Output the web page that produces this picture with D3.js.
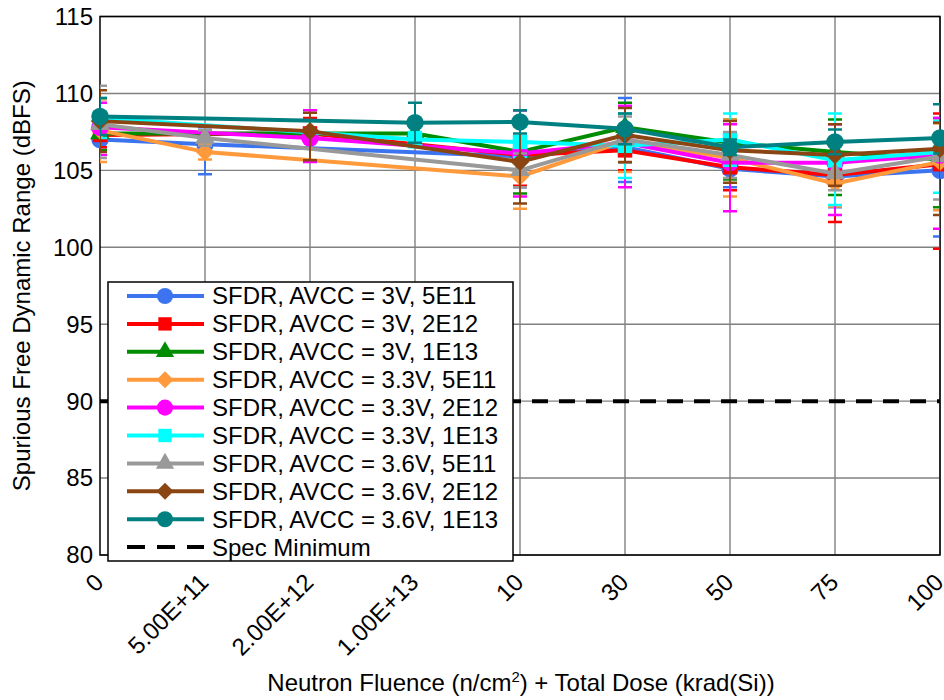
<!DOCTYPE html>
<html><head><meta charset="utf-8">
<script src="https://cdn.jsdelivr.net/npm/d3@7"></script>
<style>
body{margin:0;background:#fff;}
svg{display:block;font-family:"Liberation Sans",Arial,sans-serif;}
</style></head>
<body><svg id="c" width="944" height="700"></svg>
<script>
const categories = ["0","5.00E+11","2.00E+12","1.00E+13","10","30","50","75","100"];
const yTicks = [80,85,90,95,100,105,110,115];
const seriesNames = [
  "SFDR, AVCC = 3V, 5E11","SFDR, AVCC = 3V, 2E12","SFDR, AVCC = 3V, 1E13",
  "SFDR, AVCC = 3.3V, 5E11","SFDR, AVCC = 3.3V, 2E12","SFDR, AVCC = 3.3V, 1E13",
  "SFDR, AVCC = 3.6V, 5E11","SFDR, AVCC = 3.6V, 2E12","SFDR, AVCC = 3.6V, 1E13"];
const seriesColors = ["#3c74f0","#ff0000","#008c00","#ff9a3c","#ff00ff","#00ffff","#999999","#8b4513","#008080"];
const seriesShapes = ["circle","square","triangle","diamond","circle","square","triangle","diamond","circle"];
const specName = "Spec Minimum";
const specValue = 90;
// SFDR values (dBFS) per series, per category (null = not measured)
const sfdr = [
  [107.0, 106.7, null, null, 105.9, 106.5, 105.1, 104.6, 105.0],
  [107.3, null, 107.4, null, 106.0, 106.3, 105.2, 104.7, 105.4],
  [107.4, null, null, 107.4, 106.2, 107.8, 106.8, 106.2, 105.7],
  [107.6, 106.2, null, null, 104.6, 106.9, 105.8, 104.15, 105.55],
  [107.8, null, 107.1, null, 106.1, 106.8, 105.5, 105.5, 106.0],
  [108.4, null, null, 107.0, 106.85, 106.6, 107.0, 105.65, 106.2],
  [108.0, 107.1, null, null, 105.0, 107.0, 106.0, 104.8, 105.9],
  [108.2, null, 107.55, null, 105.55, 107.3, 106.3, 106.0, 106.4],
  [108.5, null, null, 108.1, 108.15, 107.7, 106.5, 106.85, 107.1]
];
// error bar lengths above (plus) and below (minus) each value
const errPlus = [
  [0.5, 1.1, null, null, 2.0, 3.2, 1.2, 2.0, 3.4],
  [0.8, null, 1.0, null, 2.0, 1.3, 1.5, 2.0, 3.3],
  [1.0, null, null, 0.5, 2.7, 1.6, 1.5, 2.1, 2.5],
  [2.0, 0.5, null, null, 2.1, 1.8, 2.5, 1.5, 2.5],
  [1.6, null, 1.8, null, 2.8, 2.4, 2.5, 2.5, 2.4],
  [1.3, null, null, 0.5, 1.0, 2.1, 1.7, 3.05, 2.0],
  [2.5, 0.5, null, null, 1.1, 1.5, 1.5, 1.1, 2.2],
  [2.0, null, 1.2, null, 2.7, 1.75, 1.9, 2.0, 1.7],
  [1.2, null, null, 1.3, 0.75, 1.0, 0.5, 0.8, 2.2]
];
const errMinus = [
  [0.5, 1.95, null, null, 2.0, 2.25, 1.2, 2.0, 4.3],
  [0.8, null, 1.0, null, 2.0, 1.3, 1.5, 3.05, 5.5],
  [1.1, null, null, 0.5, 2.7, 1.6, 2.4, 2.8, 3.1],
  [2.05, 0.5, null, null, 2.1, 2.0, 2.5, 1.5, 3.15],
  [1.8, null, 1.55, null, 2.8, 2.9, 3.15, 3.4, 4.8],
  [1.3, null, null, 0.5, 1.0, 2.1, 1.7, 2.9, 2.65],
  [2.2, 0.5, null, null, 1.1, 1.5, 1.5, 1.1, 2.8],
  [2.0, null, 1.9, null, 2.7, 1.75, 2.1, 2.0, 4.3],
  [1.2, null, null, 1.3, 0.75, 1.0, 0.5, 0.8, 1.0]
];

const svg = d3.select("#c");
const L = 100, R = 940, T = 16.5, B = 555;
const x = d3.scalePoint().domain(categories).range([L, R]).padding(0);
const y = d3.scaleLinear().domain([80, 115]).range([B, T]);
const FS = 24;

const diamond = {draw(ctx, size){const r=Math.sqrt(size/2);ctx.moveTo(0,-r);ctx.lineTo(r,0);ctx.lineTo(0,r);ctx.lineTo(-r,0);ctx.closePath();}};
const symType = {circle:d3.symbolCircle, square:d3.symbolSquare, triangle:d3.symbolTriangle, diamond:diamond};
const symSize = {circle:240, square:210, triangle:170, diamond:170};

svg.append("defs").append("clipPath").attr("id","pc").append("rect")
  .attr("x",L).attr("y",T).attr("width",R-L).attr("height",B-T);

// grid
const grid = svg.append("g");
grid.selectAll("line.h").data(yTicks).join("line")
  .attr("x1",L).attr("x2",R).attr("y1",d=>y(d)).attr("y2",d=>y(d))
  .attr("stroke","#808080").attr("stroke-width",1.4);
grid.selectAll("line.v").data(categories.slice(1)).join("line")
  .attr("y1",T).attr("y2",B).attr("x1",d=>x(d)).attr("x2",d=>x(d))
  .attr("stroke","#808080").attr("stroke-width",1.4);

// frame / axes
svg.append("rect").attr("x",L).attr("y",T).attr("width",R-L).attr("height",B-T)
  .attr("fill","none").attr("stroke","#000").attr("stroke-width",1.5);

// y tick labels
svg.append("g").selectAll("text").data(yTicks).join("text")
  .attr("x",L-7).attr("y",d=>y(d)).attr("dy","0.35em").attr("text-anchor","end")
  .attr("font-size",FS).attr("fill","#000").text(d=>d);

// x tick labels
svg.append("g").selectAll("text").data(categories).join("text")
  .attr("transform",d=>`translate(${x(d)-7},${B+17}) rotate(-45)`)
  .attr("text-anchor","end").attr("dy","0.7em")
  .attr("font-size",FS).attr("fill","#000").text(d=>d);

// axis titles
svg.append("text").attr("transform",`translate(22,${(T+B)/2}) rotate(-90)`)
  .attr("text-anchor","middle").attr("dy","0.35em").attr("font-size",FS)
  .text("Spurious Free Dynamic Range (dBFS)");
const xt = svg.append("text").attr("x",(L+R)/2+1).attr("y",691).attr("text-anchor","middle").attr("font-size",FS);
xt.append("tspan").text("Neutron Fluence (n/cm");
xt.append("tspan").attr("font-size",FS*0.62).attr("dy",-9).text("2");
xt.append("tspan").attr("dy",9).text(") + Total Dose (krad(Si))");

// spec line
svg.append("line").attr("x1",L).attr("x2",R).attr("y1",y(specValue)).attr("y2",y(specValue))
  .attr("stroke","#000").attr("stroke-width",4).attr("stroke-dasharray","16,11");

// series
const line = d3.line().x(d=>x(d.c)).y(d=>y(d.v));
seriesNames.forEach((name,i)=>{
  const pts = categories.map((c,j)=>({c, v:sfdr[i][j], ep:errPlus[i][j], em:errMinus[i][j]})).filter(d=>d.v!=null);
  const g = svg.append("g");
  const col = seriesColors[i];
  const eb = g.append("g").attr("clip-path","url(#pc)");
  pts.forEach(d=>{
    const xx=x(d.c), y1=y(d.v+d.ep), y2=y(d.v-d.em);
    eb.append("line").attr("x1",xx).attr("x2",xx).attr("y1",y1).attr("y2",y2).attr("stroke",col).attr("stroke-width",2);
    [y1,y2].forEach(yy=>eb.append("line").attr("x1",xx-7).attr("x2",xx+7).attr("y1",yy).attr("y2",yy).attr("stroke",col).attr("stroke-width",2.5));
  });
  g.append("path").attr("d",line(pts)).attr("fill","none").attr("stroke",col).attr("stroke-width",4).attr("stroke-linejoin","round");
  const sym = d3.symbol().type(symType[seriesShapes[i]]).size(symSize[seriesShapes[i]]);
  g.selectAll("path.m").data(pts).join("path").attr("class","m")
    .attr("transform",d=>`translate(${x(d.c)},${y(d.v)})`).attr("d",sym()).attr("fill",col);
});

// legend
const lg = svg.append("g");
lg.append("rect").attr("x",108).attr("y",282).attr("width",405).attr("height",279)
  .attr("fill","#fff").attr("stroke","#000").attr("stroke-width",1.5);
const rowY = i => 296 + i*27.9;
seriesNames.forEach((name,i)=>{
  const yy=rowY(i), col=seriesColors[i];
  lg.append("line").attr("x1",127).attr("x2",204).attr("y1",yy).attr("y2",yy).attr("stroke",col).attr("stroke-width",4);
  lg.append("path").attr("transform",`translate(165,${yy})`)
    .attr("d",d3.symbol().type(symType[seriesShapes[i]]).size(symSize[seriesShapes[i]]*0.85)()).attr("fill",col);
  lg.append("text").attr("x",212).attr("y",yy).attr("dy","0.35em").attr("font-size",FS).text(name);
});
const sy = rowY(9);
lg.append("line").attr("x1",127).attr("x2",204).attr("y1",sy).attr("y2",sy).attr("stroke","#000").attr("stroke-width",4).attr("stroke-dasharray","18,12");
lg.append("text").attr("x",212).attr("y",sy).attr("dy","0.35em").attr("font-size",FS).text(specName);
</script></body></html>
